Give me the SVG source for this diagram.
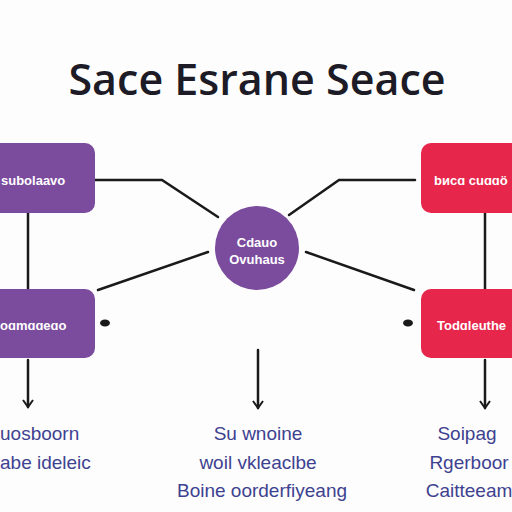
<svg xmlns="http://www.w3.org/2000/svg" width="512" height="512" viewBox="0 0 512 512">
<defs>
<style>
.title{font-family:"Open Sans","DejaVu Sans",sans-serif;font-size:43px;font-weight:600;fill:#1c1b26}
.lbl{font-family:"Liberation Sans",Arial,sans-serif;font-size:13px;font-weight:bold;fill:#ffffff}
.cap{font-family:"Liberation Sans",Arial,sans-serif;font-size:19px;fill:#3d4290}
.pur{fill:#7b4b9e}
.red{fill:#e6264b}
.ln{stroke:#1a1a1a;stroke-width:2.5;fill:none;stroke-linecap:round}
</style>
<marker id="ah" markerWidth="12" markerHeight="12" refX="9" refY="6" orient="auto" markerUnits="userSpaceOnUse" viewBox="0 0 12 12">
<path d="M2,1 L9,6 L2,11" fill="none" stroke="#1a1a1a" stroke-width="2"/>
</marker>
</defs>
<rect width="512" height="512" fill="#fdfdfd"/>
<text class="title" x="257" y="95" text-anchor="middle">Sace Esrane Seace</text>
<g id="connectors">
<polyline class="ln" points="93,180 162,180 218,217"/>
<polyline class="ln" points="415,180 339,180 289,215"/>
<line class="ln" x1="208" y1="252" x2="98" y2="290"/>
<line class="ln" x1="306" y1="252" x2="414" y2="290"/>
<line class="ln" x1="28" y1="213" x2="28" y2="289"/>
<line class="ln" x1="485" y1="213" x2="485" y2="289"/>
<ellipse cx="105" cy="323" rx="5" ry="3.5" fill="#1a1a1a"/>
<ellipse cx="408" cy="323" rx="5" ry="3.5" fill="#1a1a1a"/>
<line class="ln" x1="28" y1="360" x2="28" y2="407" marker-end="url(#ah)"/>
<line class="ln" x1="258" y1="350" x2="258" y2="408" marker-end="url(#ah)"/>
<line class="ln" x1="485" y1="360" x2="485" y2="408" marker-end="url(#ah)"/>
</g>
<g id="node-left-top">
<rect class="pur" x="-20" y="143" width="115" height="70" rx="10"/>
<text class="lbl" x="1" y="185">subolaavo</text>
</g>
<g id="node-right-top">
<rect class="red" x="421" y="143" width="111" height="70" rx="10"/>
<text class="lbl" x="434" y="185">bиcɑ cuɑɑö</text>
</g>
<g id="node-left-bottom">
<rect class="pur" x="-20" y="289" width="115" height="69" rx="10"/>
<text class="lbl" x="0" y="330">oɑmɑɑeɑo</text>
</g>
<g id="node-right-bottom">
<rect class="red" x="421" y="289" width="111" height="69" rx="10"/>
<text class="lbl" x="437" y="330">Todɑleuthe</text>
</g>
<g id="node-center">
<circle class="pur" cx="257" cy="248" r="42"/>
<text class="lbl" x="257" y="247" text-anchor="middle">Cdauo</text>
<text class="lbl" x="257" y="264" text-anchor="middle">Ovuhaus</text>
</g>
<g id="captions">
<text class="cap" x="0" y="440">uosboorn</text>
<text class="cap" x="0" y="469">abe ideleic</text>
<text class="cap" x="258" y="440" text-anchor="middle">Su wnoine</text>
<text class="cap" x="258" y="469" text-anchor="middle">woil vkleaclbe</text>
<text class="cap" x="262" y="497" text-anchor="middle">Boine oorderfiyeang</text>
<text class="cap" x="467" y="440" text-anchor="middle">Soipag</text>
<text class="cap" x="469" y="469" text-anchor="middle">Rgerboor</text>
<text class="cap" x="469" y="497" text-anchor="middle">Caitteeam</text>
</g>
</svg>
